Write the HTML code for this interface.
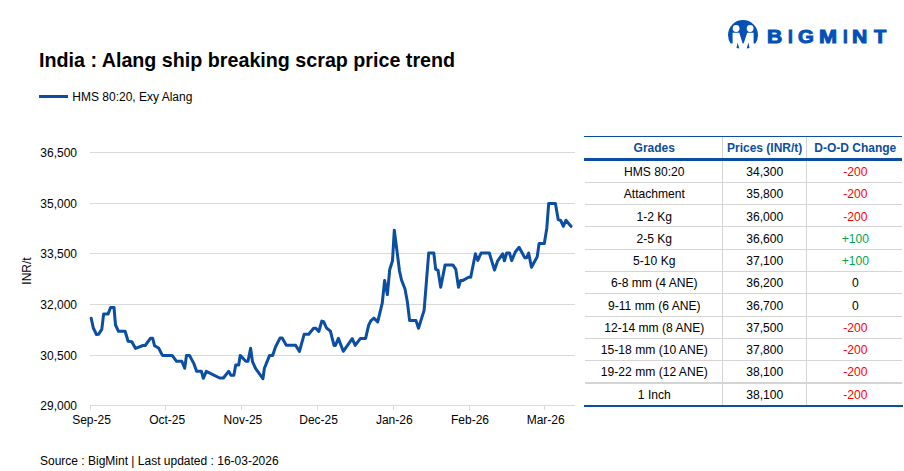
<!DOCTYPE html>
<html><head><meta charset="utf-8"><style>
html,body{margin:0;padding:0;background:#fff;}
body{width:904px;height:471px;position:relative;overflow:hidden;font-family:"Liberation Sans",sans-serif;color:#000;}
.abs{position:absolute;white-space:nowrap;}
.title{position:absolute;left:39px;top:48px;font-size:19.7px;font-weight:bold;line-height:24px;white-space:nowrap;}
.leg{position:absolute;left:72.3px;top:90px;font-size:12px;line-height:14px;white-space:nowrap;}
.src{position:absolute;left:40px;top:453.5px;font-size:12px;line-height:14px;white-space:nowrap;}
.yl{position:absolute;left:0;width:77px;text-align:right;font-size:12px;line-height:14px;}
.xl{position:absolute;top:413px;width:80px;text-align:center;font-size:12px;line-height:14px;}
.ytitle{position:absolute;left:20px;top:263.6px;width:14px;height:14px;font-size:12px;line-height:14px;}
.ytitle span{position:absolute;left:50%;top:50%;transform:translate(-50%,-50%) rotate(-90deg);white-space:nowrap;}
.t{position:absolute;font-size:12.1px;line-height:14px;text-align:center;white-space:nowrap;}
.c1{left:585.3px;width:138px;}
.c2{left:722.7px;width:84px;}
.c3{left:807.3px;width:96px;}
.hl{position:absolute;left:585px;width:317px;background:#D4D4D4;}
.vl{position:absolute;width:1px;background:#D4D4D4;}
.bm{position:absolute;top:27.2px;font-size:18px;font-weight:bold;line-height:20px;color:#0450B8;-webkit-text-stroke:1.0px #0450B8;transform-origin:0 0;}
.hdr{position:absolute;top:141px;font-size:12px;font-weight:bold;line-height:14px;color:#0B4EA2;text-align:center;white-space:nowrap;}
</style></head><body>
<svg width="904" height="471" style="position:absolute;left:0;top:0">
<line x1="90" y1="152.5" x2="575" y2="152.5" stroke="#D9D9D9" stroke-width="1"/><line x1="90" y1="203.5" x2="575" y2="203.5" stroke="#D9D9D9" stroke-width="1"/><line x1="90" y1="253.5" x2="575" y2="253.5" stroke="#D9D9D9" stroke-width="1"/><line x1="90" y1="304.5" x2="575" y2="304.5" stroke="#D9D9D9" stroke-width="1"/><line x1="90" y1="355.5" x2="575" y2="355.5" stroke="#D9D9D9" stroke-width="1"/>
<line x1="90" y1="405.5" x2="575" y2="405.5" stroke="#D9D9D9" stroke-width="1"/>
<line x1="90.5" y1="405" x2="90.5" y2="410" stroke="#D9D9D9" stroke-width="1"/><line x1="165.5" y1="405" x2="165.5" y2="410" stroke="#D9D9D9" stroke-width="1"/><line x1="241.5" y1="405" x2="241.5" y2="410" stroke="#D9D9D9" stroke-width="1"/><line x1="317.5" y1="405" x2="317.5" y2="410" stroke="#D9D9D9" stroke-width="1"/><line x1="393.5" y1="405" x2="393.5" y2="410" stroke="#D9D9D9" stroke-width="1"/><line x1="469.5" y1="405" x2="469.5" y2="410" stroke="#D9D9D9" stroke-width="1"/><line x1="544.5" y1="405" x2="544.5" y2="410" stroke="#D9D9D9" stroke-width="1"/>
<path d="M91.2 318.3 L93.3 328.0 L96.5 334.5 L98.5 334.3 L101.8 329.4 L103.6 314.1 L108.0 314.1 L110.6 307.5 L114.0 307.5 L115.5 325.0 L118.5 331.3 L125.1 331.3 L128.1 341.3 L131.8 341.7 L135.6 348.4 L143.0 345.5 L145.2 345.5 L150.4 338.3 L152.7 338.3 L154.6 345.8 L158.6 348.0 L162.4 355.4 L172.1 355.4 L176.6 361.3 L181.8 361.3 L184.7 368.3 L186.5 355.4 L189.5 355.4 L194.0 363.9 L196.6 371.3 L201.4 371.3 L203.3 378.3 L206.3 371.3 L219.7 378.0 L223.4 378.0 L228.6 371.3 L230.9 375.3 L233.9 375.3 L235.7 365.1 L238.7 365.1 L240.2 355.4 L245.8 361.3 L248.0 361.3 L250.6 348.3 L252.5 361.6 L255.5 368.3 L262.9 378.7 L264.4 368.3 L269.6 355.4 L272.6 355.4 L275.6 346.8 L280.0 338.1 L282.2 338.1 L286.3 345.3 L295.6 345.3 L299.4 351.5 L304.2 334.2 L308.7 334.2 L313.6 328.3 L315.8 328.3 L318.8 331.5 L321.8 321.1 L323.6 321.6 L326.5 328.0 L330.4 331.2 L334.0 345.4 L335.4 345.4 L338.4 338.4 L343.3 351.3 L352.2 338.7 L355.2 345.4 L360.4 338.4 L365.6 338.4 L368.6 325.3 L370.8 320.8 L373.9 318.1 L377.7 321.9 L382.3 302.8 L384.6 280.6 L387.4 294.6 L389.7 269.7 L392.5 260.8 L394.3 230.2 L397.5 255.0 L399.5 271.0 L401.5 280.0 L405.0 289.0 L407.3 301.4 L409.6 320.6 L416.0 320.6 L418.5 328.3 L424.1 310.4 L428.7 253.1 L433.8 253.1 L435.7 269.4 L438.0 270.1 L440.7 287.2 L445.1 264.9 L452.8 264.9 L455.8 269.4 L458.5 287.2 L460.6 280.6 L462.5 280.6 L468.5 277.3 L470.7 277.3 L475.4 253.8 L477.8 260.5 L481.1 253.0 L489.3 253.0 L494.5 270.1 L497.5 261.2 L502.7 253.8 L504.4 260.8 L506.7 253.0 L509.5 253.0 L511.7 260.6 L515.3 252.0 L519.1 247.3 L524.8 257.8 L526.7 257.8 L528.6 253.0 L531.5 267.3 L537.2 256.8 L539.1 243.5 L544.3 243.5 L546.8 228.2 L548.7 203.4 L555.4 203.4 L558.2 219.6 L560.7 220.5 L563.4 226.3 L565.9 220.2 L571.0 226.3" fill="none" stroke="#0B4EA2" stroke-width="3" stroke-linejoin="round" stroke-linecap="round"/>
<line x1="39" y1="96.5" x2="68" y2="96.5" stroke="#0B4EA2" stroke-width="3"/>
<g>
<clipPath id="cc"><rect x="720" y="15" width="50" height="28.6"/></clipPath>
<circle cx="743" cy="35.1" r="15" fill="#0450B8" clip-path="url(#cc)"/>
<circle cx="736.1" cy="28.5" r="3.4" fill="#fff"/>
<circle cx="750.1" cy="28.5" r="3.4" fill="#fff"/>
<polygon points="732.6,32.7 739.3,32.7 743.1,44.9 747.2,32.7 753.6,32.7 753.6,52 732.6,52" fill="#fff"/>
<polygon points="737.5,42.6 736.5,48.1 739.3,48.4" fill="#0450B8"/>
<polygon points="748.5,42.6 746.7,48.4 749.5,48.1" fill="#0450B8"/>
</g>
</svg>
<div class="title">India : Alang ship breaking scrap price trend</div>
<div class="leg">HMS 80:20, Exy Alang</div>
<div class="yl" style="top:146.2px">36,500</div><div class="yl" style="top:197.2px">35,000</div><div class="yl" style="top:247.2px">33,500</div><div class="yl" style="top:298.2px">32,000</div><div class="yl" style="top:349.2px">30,500</div><div class="yl" style="top:399.2px">29,000</div>
<div class="xl" style="left:51.5px">Sep-25</div><div class="xl" style="left:127.2px">Oct-25</div><div class="xl" style="left:202.9px">Nov-25</div><div class="xl" style="left:278.6px">Dec-25</div><div class="xl" style="left:354.3px">Jan-26</div><div class="xl" style="left:430.0px">Feb-26</div><div class="xl" style="left:505.7px">Mar-26</div>
<div class="ytitle"><span>INR/t</span></div>
<div class="src">Source : BigMint | Last updated : 16-03-2026</div>
<div class="bm" style="left:766.60px;transform:scaleX(1.169)">B</div><div class="bm" style="left:788.00px;transform:scaleX(0.957)">I</div><div class="bm" style="left:798.10px;transform:scaleX(1.133)">G</div><div class="bm" style="left:819.00px;transform:scaleX(1.200)">M</div><div class="bm" style="left:842.70px;transform:scaleX(0.935)">I</div><div class="bm" style="left:852.30px;transform:scaleX(1.175)">N</div><div class="bm" style="left:873.51px;transform:scaleX(1.112)">T</div>
<div class="vl" style="left:722px;top:137px;height:268px"></div>
<div class="vl" style="left:806px;top:137px;height:268px"></div>
<div style="position:absolute;left:584px;top:136px;width:318px;height:1px;background:#0B4EA2"></div>
<div style="position:absolute;left:584px;top:158px;width:318px;height:3px;background:#0B4EA2"></div>
<div style="position:absolute;left:584px;top:405px;width:319px;height:2px;background:#0B4EA2"></div>
<div class="hdr c1">Grades</div><div class="hdr c2">Prices (INR/t)</div><div class="hdr c3">D-O-D Change</div>
<div class="t c1" style="top:165.4px">HMS 80:20</div><div class="t c2" style="top:165.4px">34,300</div><div class="t c3" style="top:165.4px;color:#FF0000">-200</div><div class="hl" style="top:182px;height:1px"></div><div class="t c1" style="top:187.2px">Attachment</div><div class="t c2" style="top:187.2px">35,800</div><div class="t c3" style="top:187.2px;color:#FF0000">-200</div><div class="hl" style="top:204px;height:1px"></div><div class="t c1" style="top:209.5px">1-2 Kg</div><div class="t c2" style="top:209.5px">36,000</div><div class="t c3" style="top:209.5px;color:#FF0000">-200</div><div class="hl" style="top:226px;height:1px"></div><div class="t c1" style="top:231.8px">2-5 Kg</div><div class="t c2" style="top:231.8px">36,600</div><div class="t c3" style="top:231.8px;color:#00A650">+100</div><div class="hl" style="top:249px;height:1px"></div><div class="t c1" style="top:254.0px">5-10 Kg</div><div class="t c2" style="top:254.0px">37,100</div><div class="t c3" style="top:254.0px;color:#00A650">+100</div><div class="hl" style="top:271px;height:1px"></div><div class="t c1" style="top:276.0px">6-8 mm (4 ANE)</div><div class="t c2" style="top:276.0px">36,200</div><div class="t c3" style="top:276.0px;color:#000">0</div><div class="hl" style="top:293px;height:1px"></div><div class="t c1" style="top:298.5px">9-11 mm (6 ANE)</div><div class="t c2" style="top:298.5px">36,700</div><div class="t c3" style="top:298.5px;color:#000">0</div><div class="hl" style="top:316px;height:1px"></div><div class="t c1" style="top:321.0px">12-14 mm (8 ANE)</div><div class="t c2" style="top:321.0px">37,500</div><div class="t c3" style="top:321.0px;color:#FF0000">-200</div><div class="hl" style="top:338px;height:1px"></div><div class="t c1" style="top:343.0px">15-18 mm (10 ANE)</div><div class="t c2" style="top:343.0px">37,800</div><div class="t c3" style="top:343.0px;color:#FF0000">-200</div><div class="hl" style="top:360px;height:1px"></div><div class="t c1" style="top:365.2px">19-22 mm (12 ANE)</div><div class="t c2" style="top:365.2px">38,100</div><div class="t c3" style="top:365.2px;color:#FF0000">-200</div><div class="hl" style="top:382px;height:2px"></div><div class="t c1" style="top:388.0px">1 Inch</div><div class="t c2" style="top:388.0px">38,100</div><div class="t c3" style="top:388.0px;color:#FF0000">-200</div>
</body></html>
